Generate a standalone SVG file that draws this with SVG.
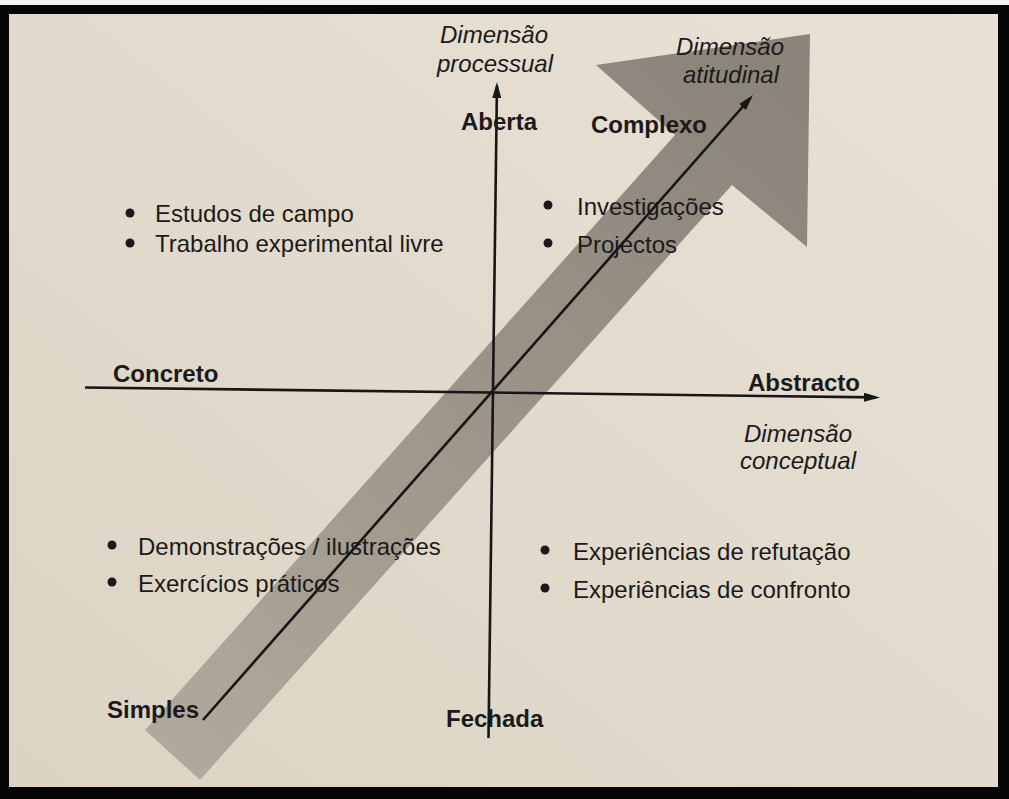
<svg xmlns="http://www.w3.org/2000/svg" width="1009" height="799" viewBox="0 0 1009 799">
  <style>
    .lbl { font-family: "Liberation Sans", Arial, Helvetica, sans-serif; font-size: 24px; fill: #1a1a1a; }
    .b { font-weight: bold; }
    .i { font-style: italic; }
    .axis { stroke: #161616; stroke-width: 2.6; fill: none; marker-end: url(#ah); }
    .dot { fill: #1a1a1a; }
  </style>
  <defs>
    <linearGradient id="paper" x1="0" y1="1" x2="1" y2="0">
      <stop offset="0" stop-color="#dcd3c4"/>
      <stop offset="1" stop-color="#e8e1d5"/>
    </linearGradient>
    <linearGradient id="band" gradientUnits="userSpaceOnUse" x1="170" y1="760" x2="790" y2="90">
      <stop offset="0" stop-color="#b1a99b"/>
      <stop offset="0.5" stop-color="#9d9589"/>
      <stop offset="1" stop-color="#8b847b"/>
    </linearGradient>
    <marker id="ah" markerUnits="userSpaceOnUse" markerWidth="16" markerHeight="9" viewBox="0 0 16 9" refX="12" refY="4.5" orient="auto">
      <path d="M0,0 L16,4.5 L0,9 z" fill="#161616"/>
    </marker>
  </defs>

  <!-- frame -->
  <rect x="0" y="0" width="1009" height="799" fill="#f4f4f4"/>
  <rect x="0" y="5" width="1009" height="794" fill="#050505"/>
  <rect x="9" y="14" width="989" height="773" fill="url(#paper)"/>

  <!-- big attitudinal arrow -->
  <g id="attitudinal-arrow">
    <polygon points="145,730 675,135 596,65 810,34 807,247 732,185 200,780" fill="url(#band)"/>
  </g>

  <!-- connectors / axes -->
  <g id="connectors">
    <line class="axis" x1="85" y1="387.5" x2="876" y2="397.4"/>
    <line class="axis" x1="488.5" y1="738" x2="496.95" y2="86"/>
    <line class="axis" x1="203" y1="720" x2="750.4" y2="98"/>
  </g>

  <g id="dim-processual">
    <text class="lbl i" x="494" y="43" text-anchor="middle">Dimensão</text>
    <text class="lbl i" x="495" y="72" text-anchor="middle">processual</text>
  </g>
  <g id="dim-atitudinal">
    <text class="lbl i" x="730" y="55" text-anchor="middle">Dimensão</text>
    <text class="lbl i" x="731" y="83" text-anchor="middle">atitudinal</text>
  </g>
  <g id="dim-conceptual">
    <text class="lbl i" x="798" y="442" text-anchor="middle">Dimensão</text>
    <text class="lbl i" x="798" y="469" text-anchor="middle">conceptual</text>
  </g>

  <g id="pole-aberta"><text class="lbl b" x="461" y="130">Aberta</text></g>
  <g id="pole-complexo"><text class="lbl b" x="591" y="133">Complexo</text></g>
  <g id="pole-concreto"><text class="lbl b" x="113" y="382">Concreto</text></g>
  <g id="pole-abstracto"><text class="lbl b" x="748" y="391">Abstracto</text></g>
  <g id="pole-simples"><text class="lbl b" x="107" y="718">Simples</text></g>
  <g id="pole-fechada"><text class="lbl b" x="446" y="727">Fechada</text></g>

  <g id="quad-top-left">
    <circle class="dot" cx="130" cy="213" r="4.5"/>
    <text class="lbl" x="155" y="222">Estudos de campo</text>
    <circle class="dot" cx="130" cy="243" r="4.5"/>
    <text class="lbl" x="155" y="252">Trabalho experimental livre</text>
  </g>
  <g id="quad-top-right">
    <circle class="dot" cx="548" cy="205" r="4.5"/>
    <text class="lbl" x="577" y="215">Investigações</text>
    <circle class="dot" cx="548" cy="243" r="4.5"/>
    <text class="lbl" x="577" y="253">Projectos</text>
  </g>
  <g id="quad-bottom-left">
    <circle class="dot" cx="112" cy="545" r="4.5"/>
    <text class="lbl" x="138" y="555">Demonstrações / ilustrações</text>
    <circle class="dot" cx="112" cy="582" r="4.5"/>
    <text class="lbl" x="138" y="592">Exercícios práticos</text>
  </g>
  <g id="quad-bottom-right">
    <circle class="dot" cx="545" cy="550" r="4.5"/>
    <text class="lbl" x="573" y="560">Experiências de refutação</text>
    <circle class="dot" cx="545" cy="588" r="4.5"/>
    <text class="lbl" x="573" y="598">Experiências de confronto</text>
  </g>
</svg>
